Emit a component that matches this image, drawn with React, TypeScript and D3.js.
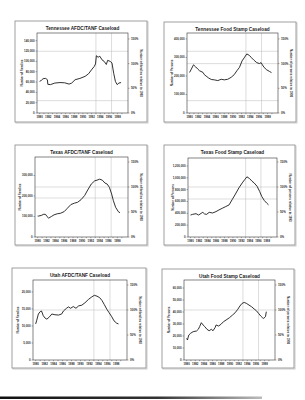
import React from 'react'
import * as d3 from 'd3'

// x axis labels shared by every panel
const tickYears = [1980, 1982, 1984, 1986, 1988, 1990, 1992, 1994, 1996, 1998]
const pctTicks = [0, 50, 100, 150]
const markYears = [1993, 1996.6]

// Tennessee AFDC/TANF, families
const tnAfdcYears = [1980, 1980.4, 1980.8, 1981.4, 1981.8, 1981.9, 1982.5, 1983.5, 1984.7, 1985.8, 1986.8, 1987.4, 1988.2, 1989.3, 1990.5, 1991.3, 1992.1, 1992.6, 1992.9, 1993.1, 1993.5, 1993.9, 1994.4, 1994.9, 1995.4, 1995.7, 1996.3, 1996.7, 1997.1, 1997.5, 1997.9, 1998.3, 1998.8]
const tnAfdcValues = [61300, 63200, 66500, 67000, 64500, 55500, 55000, 58000, 59000, 58500, 56000, 58000, 64500, 67000, 71000, 76000, 85000, 90000, 95000, 111000, 108000, 110000, 103000, 100000, 94000, 102000, 100000, 97000, 77000, 61000, 55000, 58000, 59000]

// Tennessee food stamps, persons
const tnFsYears = [1980, 1980.4, 1980.9, 1981.4, 1981.9, 1982.3, 1983.1, 1983.4, 1984, 1984.4, 1985, 1985.7, 1986.5, 1987.3, 1988, 1988.8, 1989.6, 1990.3, 1990.9, 1991.5, 1992.1, 1992.6, 1993.2, 1993.8, 1994.3, 1994.9, 1995.5, 1996.1, 1996.5, 1996.8, 1997.2, 1997.8, 1998.4, 1998.9]
const tnFsValues = [219000, 237000, 260000, 249000, 237000, 228000, 219000, 207000, 196000, 189000, 181000, 179000, 175000, 182000, 179000, 182000, 193000, 207000, 228000, 246000, 281000, 298000, 319000, 311000, 298000, 284000, 272000, 267000, 272000, 260000, 246000, 233000, 225000, 218000]

// Texas AFDC/TANF, families
const txAfdcYears = [1980, 1980.2, 1980.8, 1981.4, 1981.8, 1982.1, 1982.5, 1983.1, 1983.7, 1984.4, 1985.2, 1986, 1986.7, 1987.5, 1988.3, 1989, 1989.8, 1990.6, 1991.3, 1992.1, 1992.9, 1993.4, 1994, 1994.6, 1995.2, 1995.7, 1996.2, 1996.7, 1997.1, 1997.6, 1998.2, 1998.6]
const txAfdcValues = [102000, 102000, 105000, 111000, 110000, 100000, 92000, 100000, 108000, 113000, 116000, 124000, 140000, 158000, 165000, 169000, 182000, 202000, 229000, 258000, 274000, 277000, 282000, 277000, 263000, 258000, 242000, 210000, 177000, 145000, 124000, 118000]

// Texas food stamps, persons
const txFsYears = [1980, 1980.5, 1981.3, 1981.9, 1982.5, 1982.9, 1983.3, 1983.8, 1984.4, 1985.2, 1986, 1986.7, 1987.5, 1988.3, 1989.1, 1989.8, 1990.6, 1991.4, 1992.2, 1992.8, 1993.3, 1993.9, 1994.5, 1995, 1995.7, 1996.3, 1996.8, 1997.4, 1998, 1998.4]
const txFsValues = [371000, 383000, 394000, 371000, 400000, 417000, 389000, 383000, 417000, 406000, 429000, 457000, 486000, 514000, 543000, 629000, 726000, 829000, 914000, 971000, 1017000, 989000, 943000, 914000, 857000, 771000, 686000, 617000, 571000, 543000]

// Utah AFDC/TANF, families
const utAfdcYears = [1980, 1980.2, 1980.6, 1981, 1981.3, 1981.7, 1982.1, 1982.5, 1983.1, 1983.6, 1984.3, 1985.1, 1985.8, 1986.2, 1986.9, 1987.3, 1987.8, 1988.4, 1989, 1989.6, 1990.3, 1991, 1991.8, 1992.5, 1993.1, 1993.7, 1994.3, 1994.8, 1995.3, 1995.9, 1996.4, 1997, 1997.5, 1998.1, 1998.5]
const utAfdcValues = [10600, 11500, 13500, 14200, 14400, 13000, 12300, 12000, 12700, 13500, 13300, 13200, 13500, 14400, 15200, 15600, 15200, 15700, 15200, 15900, 16100, 16800, 17800, 18500, 19000, 18750, 18300, 17500, 16350, 14900, 13900, 12700, 11500, 10800, 10600]

// Utah food stamps, persons
const utFsYears = [1980, 1980.2, 1980.5, 1980.9, 1981.5, 1982.3, 1982.7, 1983, 1983.4, 1983.8, 1984.2, 1984.7, 1985.2, 1985.7, 1986.1, 1986.6, 1986.8, 1987.4, 1988, 1988.5, 1989.1, 1989.9, 1990.6, 1991.2, 1991.8, 1992.3, 1992.8, 1993.3, 1993.8, 1994.4, 1995, 1995.6, 1996.1, 1996.6, 1997.1, 1997.5, 1997.8, 1998.2, 1998.4]
const utFsValues = [18000, 16700, 20800, 22200, 23600, 24200, 25600, 27800, 31100, 29200, 27800, 25600, 24400, 25600, 24400, 27200, 29200, 28300, 30000, 31900, 33300, 35300, 37500, 39400, 42200, 45000, 47200, 48000, 47200, 45800, 44400, 42500, 41100, 38900, 36700, 35300, 34700, 36100, 40300]

const panels = [
  { title: 'Tennessee AFDC/TANF Caseload', frame: [15, 21, 132, 101], plot: [37, 33, 91, 80], leftMax: 155000, leftTicks: d3.range(0, 140001, 20000), rightMax: 162, hGrid: [125, 25], years: tnAfdcYears, values: tnAfdcValues, leftTitle: 'Number of Families', rightTitle: 'Number of families relative to 1993' },
  { title: 'Tennessee Food Stamp Caseload', frame: [164, 22, 132, 100], plot: [187, 33, 91, 80], leftMax: 432000, leftTicks: d3.range(0, 400001, 100000), rightMax: 162, hGrid: [125, 100, 25], years: tnFsYears, values: tnFsValues, leftTitle: 'Number of Persons', rightTitle: 'Number of persons relative to 1993' },
  { title: 'Texas AFDC/TANF Caseload', frame: [15, 145, 132, 100], plot: [35, 157, 93, 80], leftMax: 390000, leftTicks: d3.range(0, 300001, 100000), rightMax: 160, hGrid: [100, 78], years: txAfdcYears, values: txAfdcValues, leftTitle: 'Number of Families', rightTitle: 'Number of families relative to 1993' },
  { title: 'Texas Food Stamp Caseload', frame: [164, 145, 131, 100], plot: [188, 158, 89, 79], leftMax: 1335000, leftTicks: d3.range(0, 1200001, 200000), rightMax: 158, hGrid: [100, 76], years: txFsYears, values: txFsValues, leftTitle: 'Number of Persons', rightTitle: 'Number of persons relative to 1993' },
  { title: 'Utah AFDC/TANF Caseload', frame: [12, 268, 134, 100], plot: [33, 280, 94, 80], leftMax: 23500, leftTicks: d3.range(0, 20001, 5000), rightMax: 160, hGrid: [100], years: utAfdcYears, values: utAfdcValues, leftTitle: 'Number of Families', rightTitle: 'Number of families relative to 1993' },
  { title: 'Utah Food Stamp Caseload', frame: [162, 269, 132, 99], plot: [184, 280, 91, 80], leftMax: 66700, leftTicks: d3.range(0, 60001, 10000), rightMax: 160, hGrid: [100], years: utFsYears, values: utFsValues, leftTitle: 'Number of Persons', rightTitle: 'Number of persons relative to 1993' },
]

const font = '"Liberation Sans", Arial, sans-serif'
const fmt = d3.format(',')
const ink = '#2a2a2a'

function Panel({ p }) {
  const [fx, fy, fw, fh] = p.frame
  const [px, py, pw, ph] = p.plot
  const x = d3.scaleLinear().domain([1979.4, 2000.4]).range([px, px + pw])
  const y = d3.scaleLinear().domain([0, p.leftMax]).range([py + ph, py])
  const r = d3.scaleLinear().domain([0, p.rightMax]).range([py + ph, py])
  const line = d3.line<number>().x((d, i) => x(p.years[i])).y(d => y(d))
  const midY = py + ph / 2

  return (
    <g fontFamily={font}>
      <rect x={fx + 1} y={fy + 1} width={fw} height={fh} fill="none" stroke="#ccc" strokeWidth={1} />
      <rect x={fx} y={fy} width={fw} height={fh} fill="#fff" stroke="#888" strokeWidth={0.8} />
      <text x={px + pw / 2} y={fy + 8.5} textAnchor="middle" fontSize={4.7} fontWeight="bold" fill="#1a1a1a">{p.title}</text>

      {p.hGrid.map(v => (
        <line key={'h' + v} x1={px} x2={px + pw} y1={r(v)} y2={r(v)} stroke="#bbb" strokeWidth={0.5} />
      ))}
      {markYears.map(v => (
        <line key={'v' + v} x1={x(v)} x2={x(v)} y1={py} y2={py + ph} stroke="#bbb" strokeWidth={0.5} />
      ))}

      <rect x={px} y={py} width={pw} height={ph} fill="none" stroke="#333" strokeWidth={0.6} />
      <path d={line(p.values) || ''} fill="none" stroke="#1a1a1a" strokeWidth={0.9} strokeLinejoin="round" />

      {p.leftTicks.map(v => (
        <g key={'l' + v}>
          <line x1={px - 1.5} x2={px} y1={y(v)} y2={y(v)} stroke="#333" strokeWidth={0.4} />
          <text x={px - 2.5} y={y(v) + 1} textAnchor="end" fontSize={2.9} fontWeight="bold" fill={ink}>{fmt(v)}</text>
        </g>
      ))}
      {pctTicks.map(v => (
        <g key={'r' + v}>
          <line x1={px + pw} x2={px + pw + 1.5} y1={r(v)} y2={r(v)} stroke="#333" strokeWidth={0.4} />
          <text x={px + pw + 3} y={r(v) + 1} fontSize={2.9} fontWeight="bold" fill={ink}>{v + '%'}</text>
        </g>
      ))}
      {d3.range(1980, 2000).map(v => (
        <line key={'t' + v} x1={x(v)} x2={x(v)} y1={py + ph} y2={py + ph + 1.2} stroke="#333" strokeWidth={0.4} />
      ))}
      {tickYears.map(v => (
        <text key={'x' + v} x={x(v)} y={py + ph + 5} textAnchor="middle" fontSize={2.9} fontWeight="bold" fill={ink}>{v}</text>
      ))}

      <text transform={`translate(${px - 14},${midY}) rotate(-90)`} textAnchor="middle" fontSize={2.9} fontWeight="bold" fill={ink}>{p.leftTitle}</text>
      <text transform={`translate(${px + pw + 12},${midY}) rotate(90)`} textAnchor="middle" fontSize={2.9} fontWeight="bold" fill={ink}>{p.rightTitle}</text>
    </g>
  )
}

export default function App() {
  return (
    <div style={{ position: 'fixed', left: 0, top: 0 }}>
      <svg width={305} height={400} style={{ display: 'block', background: '#fff' }}>
        <defs>
          <linearGradient id="edge" x1="0" x2="1" y1="0" y2="0">
            <stop offset="0" stopColor="#111" />
            <stop offset="0.6" stopColor="#333" />
            <stop offset="1" stopColor="#bbb" />
          </linearGradient>
        </defs>
        {panels.map(p => <Panel key={p.title} p={p} />)}
        <rect x={0} y={396.5} width={262} height={2.5} fill="url(#edge)" />
      </svg>
    </div>
  )
}
